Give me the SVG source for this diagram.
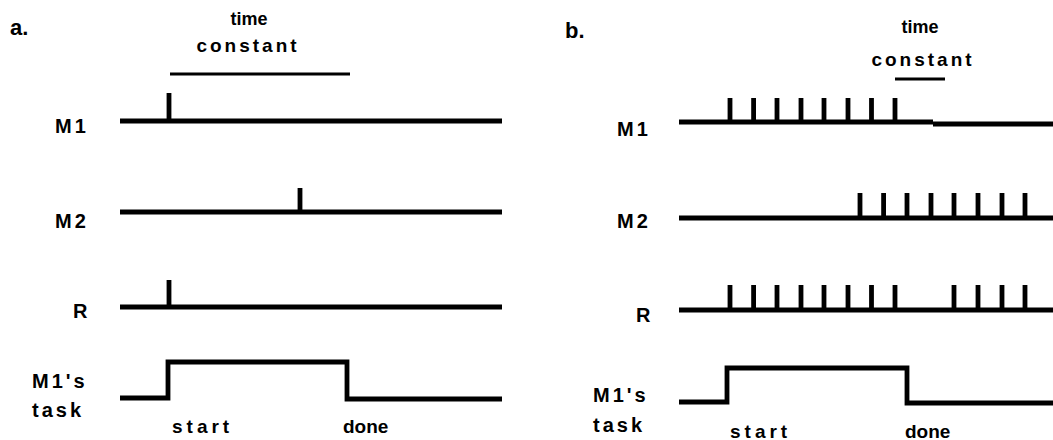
<svg xmlns="http://www.w3.org/2000/svg" width="1053" height="440" viewBox="0 0 1053 440">
<style>
.t{font-family:"Liberation Sans",Arial,sans-serif;font-weight:bold;fill:#000}
.lbl{font-size:20px;letter-spacing:3px}
.ttl{font-size:18px}
.con{font-size:19px;letter-spacing:3px}
.sig{fill:none;stroke:#000;stroke-width:4.8;stroke-linejoin:miter;stroke-linecap:butt}
.bar{fill:none;stroke:#000;stroke-width:3}
</style>
<rect width="1053" height="440" fill="#fff"/>
<!-- Panel a -->
<g id="panel-a-title">
<text class="t" x="10" y="35" font-size="22">a.</text>
<text class="t ttl" x="249" y="25" text-anchor="middle">time</text>
<text class="t con" x="248" y="52" text-anchor="middle">constant</text>
</g>
<g id="a-M1">
<text class="t lbl" x="55" y="133">M1</text>
</g>
<g id="a-M2">
<text class="t lbl" x="55" y="228">M2</text>
</g>
<g id="a-R">
<text class="t lbl" x="73" y="318">R</text>
</g>
<g id="a-task">
<text class="t lbl" x="32" y="388">M1's</text>
<text class="t lbl" x="32" y="417">task</text>
<text class="t" x="172" y="433" font-size="19" letter-spacing="4">start</text>
<text class="t" x="343" y="433" font-size="19" letter-spacing="0">done</text>
</g>
<g id="a-connectors">
<line class="bar" x1="170" y1="74" x2="350" y2="74"/>
<path class="sig" d="M120 121 H502 M169 121 V93"/>
<path class="sig" d="M120 212 H502 M300 212 V188"/>
<path class="sig" d="M120 307 H502 M169 307 V280"/>
<path class="sig" d="M120 398 H168 V362 H347 V399 H502"/>
</g>
<!-- Panel b -->
<g id="panel-b-title">
<text class="t" x="565" y="38" font-size="22">b.</text>
<text class="t ttl" x="920" y="33" text-anchor="middle">time</text>
<text class="t con" x="923" y="66" text-anchor="middle">constant</text>
</g>
<g id="b-M1">
<text class="t lbl" x="617" y="136">M1</text>
</g>
<g id="b-M2">
<text class="t lbl" x="617" y="228">M2</text>
</g>
<g id="b-R">
<text class="t lbl" x="636" y="322">R</text>
</g>
<g id="b-task">
<text class="t lbl" x="593" y="402">M1's</text>
<text class="t lbl" x="593" y="432">task</text>
<text class="t" x="730" y="438" font-size="19" letter-spacing="4">start</text>
<text class="t" x="905" y="438" font-size="19" letter-spacing="0">done</text>
</g>
<g id="b-connectors">
<line class="bar" x1="895" y1="79" x2="945" y2="79"/>
<path class="sig" d="M679 122 H933 M933 124 H1053"/>
<path class="sig" d="M730 122 V98 M753.6 122 V98 M777 122 V98 M801 122 V98 M824 122 V98 M848 122 V98 M871.5 122 V98 M895 122 V98"/>
<path class="sig" d="M679 218 H1053"/>
<path class="sig" d="M860 218 V193 M883.6 218 V193 M907 218 V193 M931 218 V193 M954 218 V193 M978 218 V193 M1002 218 V193 M1025 218 V193"/>
<path class="sig" d="M679 310 H1053"/>
<path class="sig" d="M730 310 V285 M753.6 310 V285 M777 310 V285 M801 310 V285 M824 310 V285 M848 310 V285 M871.5 310 V285 M895 310 V285 M954 310 V285 M978 310 V285 M1002 310 V285 M1025 310 V285"/>
<path class="sig" d="M679 402 H727 V368 H907 V403 H1053"/>
</g>
</svg>
